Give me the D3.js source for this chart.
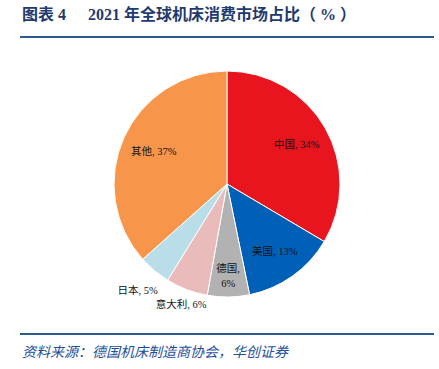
<!DOCTYPE html>
<html><head><meta charset="utf-8">
<script src="https://cdn.jsdelivr.net/npm/d3@7"></script>
<style>body{margin:0;background:#fff}</style></head>
<body><svg id="c" width="439" height="369"></svg>
<script>
const categories = ["中国","美国","德国","意大利","日本","其他"];
const values = [33.5, 13.3, 6.0, 6.0, 4.6, 36.6];
const colors = ["#E8141E","#0060B8","#B2B2B2","#E9BBBB","#B9DEEA","#F7964A"];
const svg = d3.select("#c");
const serif = "'Liberation Serif','Noto Sans CJK SC',serif";
const title = svg.append("text").attr("y",20).attr("fill","#1F3A6E").attr("font-weight","bold")
  .attr("font-size",16).attr("font-family",serif);
title.append("tspan").attr("x",22).text("图表 4");
title.append("tspan").attr("x",88).text("2021 年全球机床消费市场占比（ % ）");
svg.append("line").attr("x1",20).attr("x2",434).attr("y1",37).attr("y2",37).attr("stroke","#2E5A8A").attr("stroke-width",2);
svg.append("line").attr("x1",20).attr("x2",434).attr("y1",334).attr("y2",334).attr("stroke","#2E5A8A").attr("stroke-width",2);
svg.append("text").attr("x",22).attr("y",357).attr("fill","#1F4E99").attr("font-style","italic")
  .attr("font-size",14).attr("font-family",serif).text("资料来源：德国机床制造商协会，华创证券");
const cx=227, cy=184, r=113;
const pie = d3.pie().sort(null).value(d=>d)(values);
const arc = d3.arc().innerRadius(0).outerRadius(r);
const g = svg.append("g").attr("transform",`translate(${cx},${cy})`);
g.selectAll("path").data(pie).enter().append("path").attr("d",arc)
  .attr("fill",(d,i)=>colors[i]).attr("stroke","#fff").attr("stroke-width",1);
const labelR = [0.71, 0.73, 0.81, 1.14, 1.23, 0.71];
const lab = g.selectAll("text.l").data(pie).enter().append("text")
  .attr("font-size",10.5).attr("font-family",serif).attr("fill","#111").attr("text-anchor","middle")
  .attr("transform",(d,i)=>{const a=(d.startAngle+d.endAngle)/2; const rr=r*labelR[i];
     return `translate(${Math.sin(a)*rr},${-Math.cos(a)*rr})`;});
lab.each(function(d,i){
  const t=d3.select(this); const txt=categories[i]+", "+Math.round(values[i])+"%";
  if(categories[i]==="德国"){
    t.append("tspan").attr("x",0).attr("dy","-0.3em").text(categories[i]+",");
    t.append("tspan").attr("x",0).attr("dy","1.35em").text(Math.round(values[i])+"%");
  } else t.append("tspan").attr("x",0).attr("dy","0.35em").text(txt);
});
</script></body></html>
